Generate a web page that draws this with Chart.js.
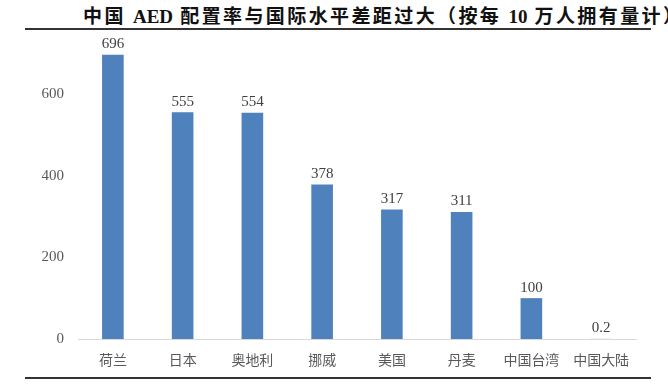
<!DOCTYPE html>
<html>
<head>
<meta charset="utf-8">
<script src="https://cdn.jsdelivr.net/npm/chart.js@4.4.0/dist/chart.umd.min.js"></script>
<style>
  body { margin: 0; background: #fff; }
  #wrap { position: relative; width: 668px; height: 384px; overflow: hidden; }
  #title {
    position: absolute; left: 83px; top: 1px; white-space: nowrap;
    font-family: "Liberation Serif", "Noto Sans CJK SC", serif;
    font-weight: bold; font-size: 19px; color: #111; letter-spacing: 2.4px;
  }
  #title .lat { letter-spacing: 0; }
  .rule { position: absolute; left: 25px; width: 626px; height: 2px; background: #333; }
  #chartBox { position: absolute; left: 0; top: 32px; width: 668px; height: 342px; }
</style>
</head>
<body>
<div id="wrap">
  <div id="title">中国 <span class="lat">AED</span> 配置率与国际水平差距过大（按每 <span class="lat">10</span> 万人拥有量计）</div>
  <div class="rule" style="top:28px"></div>
  <div id="chartBox"><canvas id="aedChart"></canvas></div>
  <div class="rule" style="top:377px"></div>
</div>
<script>
const regions = ['荷兰', '日本', '奥地利', '挪威', '美国', '丹麦', '中国台湾', '中国大陆'];
const aedPer100k = [696, 555, 554, 378, 317, 311, 100, 0.2];
const yTicks = [0, 200, 400, 600];

document.addEventListener('DOMContentLoaded', function() {
    const labelPlugin = {
        id: 'barLabels',
        afterDatasetsDraw(chart) {
            const ctx = chart.ctx;
            const meta = chart.getDatasetMeta(0);
            ctx.save();
            ctx.font = '15px "Liberation Serif", serif';
            ctx.fillStyle = '#404040';
            ctx.textAlign = 'center';
            ctx.textBaseline = 'bottom';
            meta.data.forEach((bar, i) => {
                ctx.fillText(String(aedPer100k[i]), bar.x, bar.y - 3);
            });
            ctx.restore();
        }
    };

    const ctx = document.getElementById('aedChart').getContext('2d');
    new Chart(ctx, {
        type: 'bar',
        data: {
            labels: regions,
            datasets: [{
                data: aedPer100k,
                backgroundColor: '#4f81bd',
                barPercentage: 0.62,
                categoryPercentage: 0.5
            }]
        },
        options: {
            responsive: true,
            maintainAspectRatio: false,
            animation: false,
            layout: { padding: { left: 30, right: 32, top: 19, bottom: 2 } },
            plugins: { legend: { display: false }, tooltip: { enabled: false } },
            scales: {
                x: {
                    grid: { display: false },
                    border: { color: '#d9d9d9', width: 1 },
                    afterFit(scale) { scale.height = 33; },
                    ticks: {
                        color: '#595959',
                        font: { family: '"Noto Sans CJK SC", sans-serif', size: 14 },
                        padding: 4
                    }
                },
                y: {
                    min: 0,
                    max: 705,
                    grid: { display: false },
                    border: { display: false },
                    afterFit(scale) { scale.width = 48; },
                    afterBuildTicks(scale) {
                        scale.ticks = yTicks.map(v => ({ value: v }));
                    },
                    ticks: {
                        color: '#595959',
                        font: { family: '"Liberation Serif", serif', size: 15 },
                        padding: 6
                    }
                }
            }
        },
        plugins: [labelPlugin]
    });
});
</script>
</body>
</html>
